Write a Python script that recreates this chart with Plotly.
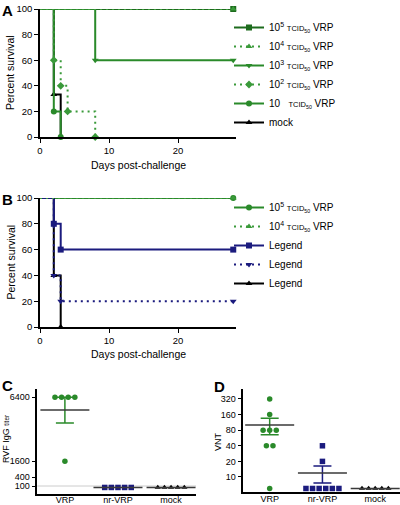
import numpy as np
import plotly.graph_objects as go

W, H = 400, 505

# ---------------- data ----------------
# Panel A: Kaplan-Meier survival, days vs percent
a_days_1e5 = [0, 28]
a_surv_1e5 = [100, 100]
a_days_1e4 = [0, 28]
a_surv_1e4 = [100, 100]
a_days_1e3 = [0, 8, 28]
a_surv_1e3 = [100, 60, 60]
a_days_1e2 = [0, 2, 3, 4, 8]
a_surv_1e2 = [100, 60, 40, 20, 0]
a_days_1e1 = [0, 2, 3]
a_surv_1e1 = [100, 20, 0]
a_days_mock = [0, 2, 3]
a_surv_mock = [100, 33.3, 0]
a_names = [
    "10<sup>5</sup> <span style='font-size:7.5px'>TCID<sub>50</sub></span> VRP",
    "10<sup>4</sup> <span style='font-size:7.5px'>TCID<sub>50</sub></span> VRP",
    "10<sup>3</sup> <span style='font-size:7.5px'>TCID<sub>50</sub></span> VRP",
    "10<sup>2</sup> <span style='font-size:7.5px'>TCID<sub>50</sub></span> VRP",
    "10&nbsp;&nbsp;&nbsp;<span style='font-size:7.5px'>TCID<sub>50</sub></span> VRP",
    "mock",
]

# Panel B
b_days_1e5 = [0, 28]
b_surv_1e5 = [100, 100]
b_days_1e4 = [0, 28]
b_surv_1e4 = [100, 100]
b_days_nav1 = [0, 2, 3, 28]
b_surv_nav1 = [100, 80, 60, 60]
b_days_nav2 = [0, 2, 3, 28]
b_surv_nav2 = [100, 40, 20, 20]
b_days_mock = [0, 2, 3]
b_surv_mock = [100, 40, 0]
b_names = [
    "10<sup>5</sup> <span style='font-size:7.5px'>TCID<sub>50</sub></span> VRP",
    "10<sup>4</sup> <span style='font-size:7.5px'>TCID<sub>50</sub></span> VRP",
    "Legend", "Legend", "Legend",
]

# Panel C: RVF IgG titer
c_groups = ["VRP", "nr-VRP", "mock"]
c_vrp = [6400, 6400, 6400, 6400, 1600]
c_nr = [50, 50, 50, 50, 50]
c_mock = [50, 50, 50, 50, 50]
c_lod = 100
c_ticks = [100, 400, 1600, 6400]

# Panel D: VNT
d_groups = ["VRP", "nr-VRP", "mock"]
d_vrp = [320, 160, 80, 80, 80, 40, 40, 6]
d_nr = [40, 20, 6, 6, 6, 6, 6, 6]
d_mock = [6, 6, 6, 6, 6]
d_lod = 10
d_ticks = [10, 20, 40, 80, 160, 320]

# ---------------- styles ----------------
FONT = "Liberation Sans, Arial, sans-serif"
G_DARK = "#1d6b1d"
G_MID = "#2a8a2a"
G_LIGHT = "#3a9a3a"
NAVY = "#1b1b7e"
BLACK = "#000000"
DOT = "2px,4px"


def px(x):
    return x / W


def py(y):
    return 1 - y / H


fig = go.Figure()


def add_surv(days, surv, color, dash, symbol, ax, msize=6):
    xa, ya = ax
    fig.add_trace(go.Scatter(
        x=days, y=surv, mode="lines", showlegend=False, hoverinfo="skip",
        line=dict(color=color, width=2, dash=dash, shape="hv"),
        xaxis=xa, yaxis=ya, cliponaxis=False))
    fig.add_trace(go.Scatter(
        x=days[1:], y=surv[1:], mode="markers", showlegend=False,
        marker=dict(symbol=symbol, size=msize, color=color),
        xaxis=xa, yaxis=ya, cliponaxis=False))


def add_legend_entry(name, color, dash, symbol, ax, legend, msize=6):
    xa, ya = ax
    fig.add_trace(go.Scatter(
        x=[None], y=[None], mode="lines+markers", name=name, legend=legend,
        line=dict(color=color, width=2, dash=dash),
        marker=dict(symbol=symbol, size=msize, color=color),
        xaxis=xa, yaxis=ya))


A = ("x", "y")
B = ("x2", "y2")

a_series = [
    (a_days_1e5, a_surv_1e5, a_names[0], G_DARK, "solid", "square"),
    (a_days_1e4, a_surv_1e4, a_names[1], G_LIGHT, DOT, "triangle-up"),
    (a_days_1e3, a_surv_1e3, a_names[2], G_MID, "solid", "triangle-down"),
    (a_days_1e2, a_surv_1e2, a_names[3], G_LIGHT, DOT, "diamond"),
    (a_days_1e1, a_surv_1e1, a_names[4], G_MID, "solid", "circle"),
    (a_days_mock, a_surv_mock, a_names[5], BLACK, "solid", "triangle-up"),
]
draw_order_a = [0, 5, 4, 3, 2, 1]
for i in draw_order_a:
    d, s, n, c, ds, sy = a_series[i]
    add_surv(d, s, c, ds, sy, A)
for d, s, n, c, ds, sy in a_series:
    add_legend_entry(n, c, ds, sy, A, "legend")

b_series = [
    (b_days_1e5, b_surv_1e5, b_names[0], G_MID, "solid", "circle"),
    (b_days_1e4, b_surv_1e4, b_names[1], G_LIGHT, DOT, "triangle-up"),
    (b_days_nav1, b_surv_nav1, b_names[2], NAVY, "solid", "square"),
    (b_days_nav2, b_surv_nav2, b_names[3], NAVY, DOT, "triangle-down"),
    (b_days_mock, b_surv_mock, b_names[4], BLACK, "solid", "triangle-up"),
]
draw_order_b = [0, 4, 3, 2, 1]
for i in draw_order_b:
    d, s, n, c, ds, sy = b_series[i]
    add_surv(d, s, c, ds, sy, B)
for d, s, n, c, ds, sy in b_series:
    add_legend_entry(n, c, ds, sy, B, "legend2")


# ---------------- scatter panels ----------------
def swarm(vals, center, step):
    vals = np.asarray(vals, float)
    xs = np.empty_like(vals)
    for v in np.unique(vals):
        idx = np.where(vals == v)[0]
        n = len(idx)
        xs[idx] = center + (np.arange(n) - (n - 1) / 2) * step
    return xs


# Segmented (two-segment) linear y-scale for panel C, as in the original axis
C_BREAK = 400


def c_scale(v):
    v = np.asarray(v, float)
    return np.where(v <= C_BREAK, 5.4 + 0.029 * v,
                    5.4 + 0.029 * C_BREAK + (v - C_BREAK) * (80.0 / 6000.0))


STEP = 0.125
MEAN_LEN = 35
CAP = 9

c_sets = [(c_vrp, G_MID, "circle"), (c_nr, NAVY, "square"), (c_mock, BLACK, "triangle-up")]
for gi, (vals, col, sym) in enumerate(c_sets):
    v = np.asarray(vals, float)
    fig.add_trace(go.Scatter(
        x=swarm(v, gi, STEP), y=c_scale(v), mode="markers", showlegend=False,
        marker=dict(symbol=sym, size=5.5, color=col), xaxis="x3", yaxis="y3",
        cliponaxis=False))
for gi, (vals, col, sym) in enumerate(c_sets):
    v = np.asarray(vals, float)
    m = v.mean()
    sem = v.std(ddof=1) / np.sqrt(len(v))
    ym = float(c_scale(m))
    fig.add_trace(go.Scatter(
        x=[gi], y=[ym], mode="markers", showlegend=False,
        marker=dict(symbol="line-ew", size=MEAN_LEN,
                    line=dict(color="#3a3a3a", width=1.5)),
        error_y=dict(type="data", symmetric=False,
                     array=[float(c_scale(m + sem)) - ym],
                     arrayminus=[ym - float(c_scale(m - sem))],
                     color=col, thickness=1.5, width=CAP, visible=bool(sem > 0)),
        xaxis="x3", yaxis="y3", cliponaxis=False))

d_sets = [(d_vrp, G_MID, "circle"), (d_nr, NAVY, "square"), (d_mock, BLACK, "triangle-up")]
for gi, (vals, col, sym) in enumerate(d_sets):
    v = np.asarray(vals, float)
    fig.add_trace(go.Scatter(
        x=swarm(v, gi, STEP), y=v, mode="markers", showlegend=False,
        marker=dict(symbol=sym, size=5.5, color=col), xaxis="x4", yaxis="y4",
        cliponaxis=False))
for gi, (vals, col, sym) in enumerate(d_sets):
    v = np.asarray(vals, float)
    m = v.mean()
    sem = v.std(ddof=1) / np.sqrt(len(v))
    fig.add_trace(go.Scatter(
        x=[gi], y=[m], mode="markers", showlegend=False,
        marker=dict(symbol="line-ew", size=MEAN_LEN,
                    line=dict(color="#3a3a3a", width=1.5)),
        error_y=dict(type="data", array=[sem], color=col, thickness=1.5,
                     width=CAP, visible=bool(sem > 0)),
        xaxis="x4", yaxis="y4", cliponaxis=False))

# detection-limit lines
fig.add_shape(type="line", xref="x3 domain", x0=0, x1=1, yref="y3",
              y0=float(c_scale(c_lod)), y1=float(c_scale(c_lod)),
              line=dict(color="#cccccc", width=1), layer="below")
fig.add_shape(type="line", xref="x4 domain", x0=0, x1=1, yref="y4",
              y0=np.log10(d_lod), y1=np.log10(d_lod),
              line=dict(color="#cccccc", width=1), layer="below")

# ---------------- axes ----------------
axis_common = dict(showline=True, linecolor="black", linewidth=1.5, showgrid=False,
                   zeroline=False, ticks="outside", ticklen=4, tickwidth=1,
                   automargin=False,
                   tickcolor="black", tickfont=dict(size=9.5, color="black", family=FONT))
small_tick = dict(size=9, color="black", family=FONT)
cat_axis_c = {**axis_common, "ticks": "", "tickfont": small_tick, "ticklabelstandoff": -4}
cat_axis_d = {**axis_common, "ticks": "", "tickfont": small_tick, "ticklabelstandoff": -2}

fig.update_layout(
    template="none",
    width=W, height=H, margin=dict(l=0, r=0, t=0, b=0, pad=0, autoexpand=False),
    paper_bgcolor="white", plot_bgcolor="white",
    font=dict(family=FONT, color="black", size=10),
    xaxis=dict(domain=[px(40), px(236)], range=[0, 28.4], tickvals=[0, 10, 20],
               anchor="y", **axis_common),
    yaxis=dict(domain=[py(137), py(9)], range=[0, 100], tickvals=[0, 20, 40, 60, 80, 100],
               anchor="x", **axis_common),
    xaxis2=dict(domain=[px(40), px(236)], range=[0, 28.4], tickvals=[0, 10, 20],
                anchor="y2", **axis_common),
    yaxis2=dict(domain=[py(327), py(198)], range=[0, 100], tickvals=[0, 20, 40, 60, 80, 100],
                anchor="x2", **axis_common),
    xaxis3=dict(domain=[px(37.3), px(196)], range=[-0.52, 2.47], tickvals=[0, 1, 2],
                ticktext=c_groups, anchor="y3", **cat_axis_c),
    yaxis3=dict(domain=[py(494.3), py(389)], range=[0, 105.3],
                tickvals=[float(t) for t in c_scale(c_ticks)],
                ticktext=[str(t) for t in c_ticks], anchor="x3",
                **{**axis_common, "tickfont": small_tick}),
    xaxis4=dict(domain=[px(243.3), 1.0], range=[-0.5, 2.47], tickvals=[0, 1, 2],
                ticktext=d_groups, anchor="y4", **cat_axis_d),
    yaxis4=dict(domain=[py(491.7), py(389)], type="log", range=[0.716, 2.698],
                tickvals=d_ticks, ticktext=[str(t) for t in d_ticks], anchor="x4",
                **{**axis_common, "tickfont": small_tick}),
    legend=dict(x=px(229), y=py(13), xanchor="left", yanchor="top",
                bgcolor="rgba(0,0,0,0)", font=dict(size=10, family=FONT), itemwidth=30,
                tracegroupgap=0, borderwidth=0),
    legend2=dict(x=px(229), y=py(193), xanchor="left", yanchor="top",
                 bgcolor="rgba(0,0,0,0)", font=dict(size=10, family=FONT), itemwidth=30,
                 tracegroupgap=0, borderwidth=0),
    showlegend=True,
)

# ---------------- text ----------------
ann = []


def label(text, x, y, size=10.5, angle=0, xanchor="center", yanchor="middle"):
    ann.append(dict(text=text, x=px(x), y=py(y), xref="paper", yref="paper",
                    showarrow=False, textangle=angle, xanchor=xanchor, yanchor=yanchor,
                    font=dict(size=size, family=FONT, color="black")))


label("<b>A</b>", 0, 0, size=15, xanchor="left", yanchor="top")
label("<b>B</b>", 0, 189, size=15, xanchor="left", yanchor="top")
label("<b>C</b>", 0, 375, size=15, xanchor="left", yanchor="top")
label("<b>D</b>", 212, 376, size=15, xanchor="left", yanchor="top")
label("Percent survival", 10, 73, angle=-90)
label("Percent survival", 10, 262.5, angle=-90)
label("Days post-challenge", 138, 165)
label("Days post-challenge", 138, 354)
label("RVF IgG <span style='font-size:6.5px'>titer</span>", 6, 439, size=9, angle=-90)
label("VNT", 218, 442, size=9, angle=-90)
fig.update_layout(annotations=ann)

# remove the browser's default 8px page margin so the figure sits at the window origin
fig.write_html("out.html", config={"displayModeBar": False},
               post_script="document.body.style.margin='0';document.body.style.overflow='hidden';")
